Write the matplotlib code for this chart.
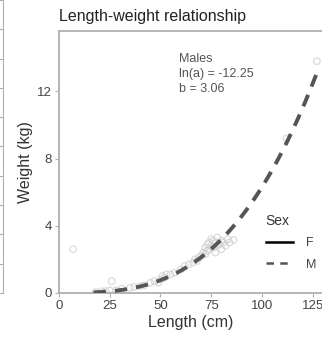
import numpy as np
import matplotlib
matplotlib.use("Agg")
import matplotlib.pyplot as plt
from matplotlib.lines import Line2D

plt.rcParams["font.family"] = ["Liberation Sans", "DejaVu Sans"]

# observed fish (length cm, weight kg)
length = [7, 18, 21, 23, 25, 26, 28, 31, 35, 37, 40, 42, 45, 47, 49, 50, 51, 52, 53,
          55, 57, 60, 62, 64, 66, 67, 68, 69, 70, 71, 72, 72, 73, 73, 74, 74, 75, 75,
          76, 76, 77, 77, 78, 78, 79, 80, 80, 81, 82, 83, 84, 86, 112, 127]
weight = [2.6, 0.05, 0.1, 0.1, 0.15, 0.7, 0.15, 0.25, 0.3, 0.35, 0.4, 0.45, 0.6, 0.7,
          0.6, 0.8, 1.0, 0.9, 1.1, 1.1, 1.2, 1.4, 1.6, 1.7, 1.8, 2.0, 1.9, 2.1, 2.2,
          2.4, 2.3, 2.7, 2.5, 2.9, 2.6, 3.0, 2.8, 3.2, 2.7, 3.1, 2.4, 3.0, 2.8, 3.3,
          2.9, 3.1, 2.6, 3.0, 2.8, 3.2, 3.0, 3.15, 9.2, 13.8]

# fitted curve for males
ln_a = -12.25
b = 3.06
fit_range = (17, 127)

fig = plt.figure(figsize=(3.22, 3.37), dpi=100)
ax = fig.add_axes([0.183, 0.131, 0.82, 0.777])

ax.scatter(length, weight, s=22, facecolors="none", edgecolors="#cfcfcf",
           linewidths=0.9, alpha=0.75, zorder=2)

L = np.linspace(fit_range[0], fit_range[1], 200)
W = np.exp(ln_a) * L ** b
ax.plot(L, W, color="#555555", lw=2.8, ls=(0, (3.2, 2.3)), zorder=3)

ax.set_xlim(0, 130)
ax.set_ylim(0, 15.6)
ax.set_xticks([0, 25, 50, 75, 100, 125])
ax.set_yticks([0, 4, 8, 12])
ax.set_xlabel("Length (cm)", fontsize=11.5, color="#333333", labelpad=2.5)
ax.set_ylabel("Weight (kg)", fontsize=11.5, color="#333333", labelpad=3)
ax.set_title("Length-weight relationship", fontsize=11.5, color="#222222",
             loc="left", x=0.0, pad=7)

for side in ["left", "bottom", "top"]:
    ax.spines[side].set_color("#b0b0b0")
    ax.spines[side].set_linewidth(1.3)
ax.spines["right"].set_visible(False)
ax.tick_params(colors="#b0b0b0", labelcolor="#444444", labelsize=9.5, length=3, pad=2)

ax.text(0.455, 0.917, "Males\nln(a) = -12.25\nb = 3.06", transform=ax.transAxes,
        fontsize=9, color="#555555", va="top", linespacing=1.35)

handles = [Line2D([], [], color="black", lw=1.8),
           Line2D([], [], color="#555555", lw=1.8, ls=(0, (3, 2.5)))]
leg = ax.legend(handles, ["F", "M"], title="Sex", frameon=False, fontsize=9,
                title_fontsize=10, loc="upper left", bbox_to_anchor=(0.74, 0.345),
                handlelength=2.2, labelspacing=0.75, handletextpad=1.0)
leg._legend_box.align = "left"
for t in leg.get_texts():
    t.set_color("#444444")
leg.get_title().set_color("#333333")

# edge of the neighbouring panel
ax2 = fig.add_axes([-0.5, 0.131, 0.509, 0.869])
for side in ["left", "bottom", "top"]:
    ax2.spines[side].set_visible(False)
ax2.spines["right"].set_color("#b0b0b0")
ax2.set_xticks([])
ax2.set_ylim(0, 10)
ax2.set_yticks(range(11))
ax2.yaxis.tick_right()
ax2.tick_params(axis="y", direction="in", length=3, colors="#b0b0b0", labelright=False)

fig.savefig("out.png", dpi=100)
